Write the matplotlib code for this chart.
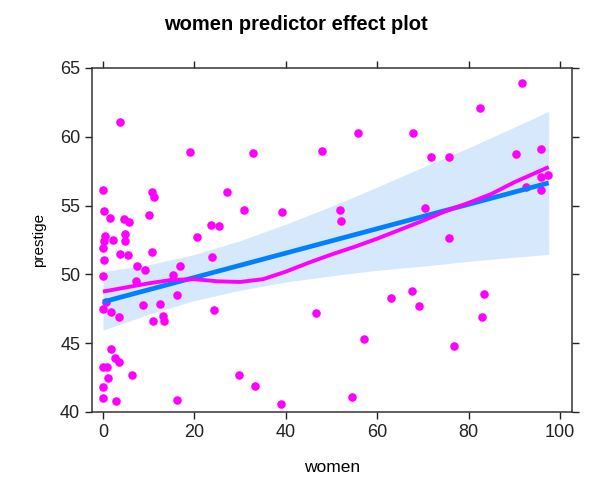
import numpy as np
import matplotlib.pyplot as plt

plt.rcParams['font.family'] = ['Liberation Sans', 'DejaVu Sans']

# partial residuals (women, prestige)
women = [0.0, 10.7, 11.2, 0.2, 1.5, 4.7, 5.6, 10.1, 0.5, 0.2, 0.0, 2.3, 4.9, 4.9,
         3.7, 5.5, 10.7, 0.2, 0.1, 7.5, 9.1, 7.3, 15.3, 16.8, 0.7, 0.0, 1.8, 3.4,
         8.75, 12.5, 11.0, 13.2, 13.3, 16.3, 1.7, 2.6, 3.4, 0.0, 0.9, 1.1, 6.3,
         0.0, 0.0, 2.8, 16.3, 3.7, 19.0, 27.2, 30.9, 23.6, 25.3, 20.5, 39.1, 23.9,
         24.3, 29.7, 33.3, 38.9, 55.7, 67.8, 48.0, 51.9, 52.0, 70.5, 71.7, 46.5,
         57.0, 62.9, 67.7, 69.1, 54.4, 91.6, 82.5, 75.8, 90.4, 95.8, 75.8, 92.6,
         95.8, 97.4, 95.8, 83.4, 82.9, 76.7, 32.9]
prestige = [56.1, 56.0, 55.6, 54.6, 54.1, 54.0, 53.8, 54.3, 52.8, 52.4, 51.9, 52.5,
            52.9, 52.45, 51.5, 51.4, 51.6, 51.05, 49.9, 50.6, 50.3, 49.5, 49.96, 50.6,
            48.0, 47.5, 47.3, 46.9, 47.8, 47.85, 46.6, 47.0, 46.6, 48.5, 44.6, 43.9,
            43.65, 43.25, 43.25, 42.5, 42.7, 41.8, 41.0, 40.8, 40.9, 61.1, 58.9, 55.97,
            54.66, 53.56, 53.5, 52.7, 54.56, 51.3, 47.4, 42.7, 41.9, 40.6, 60.25, 60.25,
            59.0, 54.65, 53.9, 54.8, 58.5, 47.2, 45.3, 48.3, 48.8, 47.7, 41.1, 63.9,
            62.1, 58.5, 58.75, 59.1, 52.65, 56.35, 57.05, 57.2, 56.1, 48.6, 46.9, 44.8,
            58.85]

# fitted effect and confidence band
fit_x = [0, 97.5]
fit_y = [48.0, 56.65]
band_x = [0, 10, 20, 30, 40, 50, 60, 70, 80, 90, 97.5]
band_lo = [45.95, 47.1, 48.1, 48.85, 49.45, 49.9, 50.3, 50.6, 50.95, 51.25, 51.45]
band_hi = [50.2, 50.7, 51.45, 52.45, 53.65, 54.95, 56.35, 57.8, 59.2, 60.7, 61.85]

# smooth of the residuals
smooth_x = [0, 5, 10, 15, 20, 25, 30, 35, 40, 45, 50, 55, 60, 65, 70, 75, 80, 85, 90, 97.5]
smooth_y = [48.75, 49.05, 49.35, 49.6, 49.65, 49.5, 49.45, 49.65, 50.2, 50.85, 51.45,
            52.0, 52.6, 53.25, 53.9, 54.6, 55.2, 55.85, 56.7, 57.8]

fig = plt.figure(figsize=(5.92, 4.83), dpi=100)
ax = fig.add_axes([92/592, 71/483, 480/592, 344/483])

ax.fill_between(band_x, band_lo, band_hi, color='#d6e8fc', linewidth=0)
ax.scatter(women, prestige, s=38, color='#ff00ff', zorder=3, linewidths=0)
ax.plot(fit_x, fit_y, color='#0080ff', lw=3.4, zorder=4, solid_capstyle='butt')
ax.plot(smooth_x, smooth_y, color='#ff00ff', lw=2.8, zorder=5, solid_capstyle='butt')

ax.set_xlim(-2.4, 102.6)
ax.set_ylim(40, 65)
ax.set_xticks([0, 20, 40, 60, 80, 100])
ax.set_yticks([40, 45, 50, 55, 60, 65])
ax.tick_params(direction='out', length=5, width=1, labelsize=13, colors='#222222',
               top=True, right=True, labeltop=False, labelright=False)
for s in ax.spines.values():
    s.set_color('#333333')
    s.set_linewidth(1.1)

ax.set_xlabel('women', fontsize=12.5, labelpad=14)
ax.set_ylabel('prestige', fontsize=11, labelpad=10)
fig.text(0.5, 0.95, 'women predictor effect plot', ha='center', va='center',
         fontsize=14.5, fontweight='bold')

fig.savefig('out.png', dpi=100)
